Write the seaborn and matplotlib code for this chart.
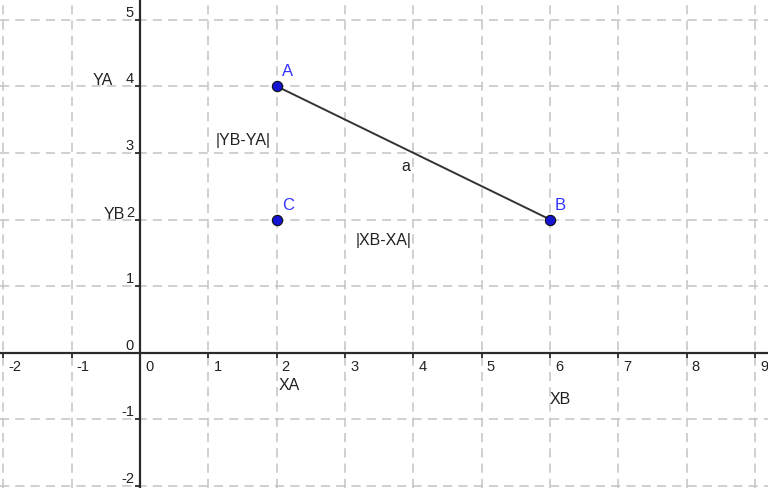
import matplotlib
matplotlib.use("Agg")
import matplotlib.pyplot as plt
import seaborn as sns
import pandas as pd

# ------------------------------
# data
# ------------------------------
point_names = ["A", "B", "C"]
point_x = [2, 6, 2]
point_y = [4, 2, 2]

segment_x = [2, 6]   # segment a from A to B
segment_y = [4, 2]

x_ticks = [-2, -1, 0, 1, 2, 3, 4, 5, 6, 7, 8, 9]
y_ticks = [-2, -1, 0, 1, 2, 3, 4, 5]

# free text labels from the construction
note_text = ["YA", "YB", "|YB-YA|", "|XB-XA|", "XA", "XB", "a"]
note_x = [-0.54, -0.38, 1.51, 3.56, 2.18, 6.15, 3.89]
note_y = [4.09, 2.08, 3.19, 1.68, -0.49, -0.70, 2.79]

sns.set_theme(style="white")
plt.rcParams["font.family"] = ["Liberation Sans", "DejaVu Sans"]

fig = plt.figure(figsize=(7.68, 4.88), dpi=100)
ax = fig.add_axes([0, 0, 1, 1])

ax.set_xlim(-2.05, 9.19)
ax.set_ylim(-2.03, 5.295)
ax.set_xticks(x_ticks)
ax.set_yticks(y_ticks)
ax.grid(True, color="#c4c4c4", linestyle=(0, (6, 4)), linewidth=1.1)
ax.set_axisbelow(True)

# axes through the origin
for side in ["top", "right"]:
    ax.spines[side].set_visible(False)
for side in ["left", "bottom"]:
    ax.spines[side].set_position("zero")
    ax.spines[side].set_color("#2a2a2a")
    ax.spines[side].set_linewidth(1.6)
ax.tick_params(direction="out", length=3.5, width=1.3, color="#2a2a2a",
               labelbottom=False, labelleft=False, bottom=True, left=True)

# tick labels, GeoGebra style
for v in x_ticks:
    ax.annotate(str(v), (v, 0), xytext=(5, -7), textcoords="offset pixels",
                ha="left", va="top", fontsize=10.5, color="#222222")
for v in y_ticks:
    ax.annotate(str(v), (0, v), xytext=(-6, 3), textcoords="offset pixels",
                ha="right", va="baseline", fontsize=10.5, color="#222222")

# segment a
df_seg = pd.DataFrame({"x": segment_x, "y": segment_y})
sns.lineplot(data=df_seg, x="x", y="y", ax=ax, color="#333333",
             linewidth=1.4, sort=False, zorder=3)

# points
df_pts = pd.DataFrame({"name": point_names, "x": point_x, "y": point_y})
sns.scatterplot(data=df_pts, x="x", y="y", ax=ax, s=55, color="#1414d2",
                edgecolor="#101010", linewidth=0.8, zorder=4)
for name, px, py in zip(point_names, point_x, point_y):
    ax.annotate(name, (px, py), xytext=(5, 7), textcoords="offset pixels",
                ha="left", va="bottom", fontsize=12, color="#3333ff")

for t, tx, ty in zip(note_text, note_x, note_y):
    ax.text(tx, ty, t, ha="center", va="center", fontsize=11.5, color="#222222")

ax.set_xlabel("")
ax.set_ylabel("")

fig.savefig("out.png", dpi=100)
